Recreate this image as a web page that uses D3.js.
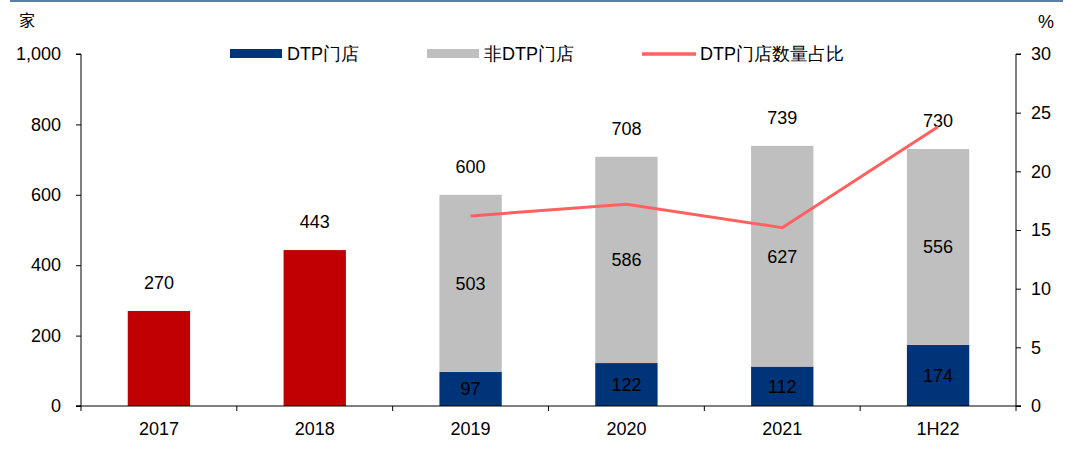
<!DOCTYPE html>
<html><head><meta charset="utf-8">
<script src="https://cdn.jsdelivr.net/npm/d3@7"></script>
<style>body{margin:0;background:#fff;} svg{display:block;font-family:"Liberation Sans",Arial,sans-serif;}</style>
</head><body><svg id="c" width="1067" height="455"></svg>
<script>
const categories = ["2017","2018","2019","2020","2021","1H22"];
const totalStores = [270,443,600,708,739,730];
const dtpStores = [null,null,97,122,112,174];
const nonDtpStores = [null,null,503,586,627,556];
const dtpShare = [null,null,16.2,17.2,15.2,23.8];
const leftTicks = [0,200,400,600,800,1000];
const rightTicks = [0,5,10,15,20,25,30];

const svg = d3.select("#c");
const L = 81, R = 1016, T = 54, B = 406, FS = 18;
const x = d3.scaleBand().domain(categories).range([L,R]).paddingInner(0.6).paddingOuter(0.3);
const y = d3.scaleLinear().domain([0,1000]).range([B,T]);
const y2 = d3.scaleLinear().domain([0,30]).range([B,T]);
const cx = d => x(d) + x.bandwidth()/2;
const NAVY="#003478", GRAY="#bfbfbf", RED="#c00000", LINE="#ff6161";

svg.append("rect").attr("x",10).attr("y",0).attr("width",1053).attr("height",2).attr("fill","#5b7fa8");

// bars
categories.forEach((c,i)=>{
  if(dtpStores[i]==null){
    svg.append("rect").attr("x",x(c)).attr("width",x.bandwidth()).attr("y",y(totalStores[i])).attr("height",B-y(totalStores[i])).attr("fill",RED);
  } else {
    svg.append("rect").attr("x",x(c)).attr("width",x.bandwidth()).attr("y",y(dtpStores[i])).attr("height",B-y(dtpStores[i])).attr("fill",NAVY);
    const top = dtpStores[i]+nonDtpStores[i];
    svg.append("rect").attr("x",x(c)).attr("width",x.bandwidth()).attr("y",y(top)).attr("height",y(dtpStores[i])-y(top)).attr("fill",GRAY);
    svg.append("text").attr("x",cx(c)).attr("y",(y(dtpStores[i])+B)/2).attr("dy","0.35em").attr("text-anchor","middle").attr("font-size",FS).attr("fill","#000").text(dtpStores[i]);
    svg.append("text").attr("x",cx(c)).attr("y",(y(top)+y(dtpStores[i]))/2).attr("dy","0.35em").attr("text-anchor","middle").attr("font-size",FS).attr("fill","#000").text(nonDtpStores[i]);
  }
  svg.append("text").attr("x",cx(c)).attr("y",y(totalStores[i])-28).attr("dy","0.35em").attr("text-anchor","middle").attr("font-size",FS).attr("fill","#000").text(totalStores[i]);
});

// line
const pts = categories.map((c,i)=>({c,v:dtpShare[i]})).filter(d=>d.v!=null);
svg.append("path").datum(pts).attr("fill","none").attr("stroke",LINE).attr("stroke-width",3)
  .attr("d",d3.line().x(d=>cx(d.c)).y(d=>y2(d.v)));

// axes
const ax = svg.append("g").attr("transform",`translate(${L},0)`)
  .call(d3.axisLeft(y).tickValues(leftTicks).tickSize(5).tickPadding(15).tickFormat(d3.format(",")));
const ax2 = svg.append("g").attr("transform",`translate(${R},0)`)
  .call(d3.axisRight(y2).tickValues(rightTicks).tickSize(5).tickPadding(10));
const xa = svg.append("g").attr("transform",`translate(0,${B})`)
  .call(d3.axisBottom(x).tickSize(0).tickPadding(16));
[ax,ax2,xa].forEach(g=>{
  g.selectAll("path").attr("stroke","#000").attr("stroke-width",1);
  g.selectAll("line").attr("stroke","#000");
  g.selectAll("text").attr("font-size",FS).attr("fill","#000").attr("font-family","Liberation Sans, Arial, sans-serif");
});
ax.select(".domain").attr("d",`M-5,${T}H0V${B}H-5`);
ax2.select(".domain").attr("d",`M5,${T}H0V${B}H5`);
xa.select(".domain").attr("d",`M${L-5},0H${R+5}`);
// category boundary ticks
const bounds = d3.range(categories.length+1).map(i=>L+i*(R-L)/categories.length);
xa.selectAll(".bt").data(bounds).enter().append("line").attr("x1",d=>d).attr("x2",d=>d).attr("y1",0).attr("y2",5).attr("stroke","#000");

// units
svg.append("text").attr("x",19).attr("y",26).attr("font-size",16).attr("font-family","Noto Sans CJK SC").text("家");
svg.append("text").attr("x",1038).attr("y",28).attr("font-size",FS).text("%");

// legend
const lg = svg.append("g").attr("font-size",FS);
lg.append("rect").attr("x",230).attr("y",49).attr("width",52).attr("height",9).attr("fill",NAVY);
lg.append("text").attr("x",287).attr("y",54).attr("dy","0.35em").text("DTP门店");
lg.append("rect").attr("x",427).attr("y",49).attr("width",52).attr("height",9).attr("fill",GRAY);
lg.append("text").attr("x",484).attr("y",54).attr("dy","0.35em").text("非DTP门店");
lg.append("line").attr("x1",642).attr("x2",696).attr("y1",54).attr("y2",54).attr("stroke",LINE).attr("stroke-width",3.5);
lg.append("text").attr("x",700).attr("y",54).attr("dy","0.35em").text("DTP门店数量占比");
</script></body></html>
